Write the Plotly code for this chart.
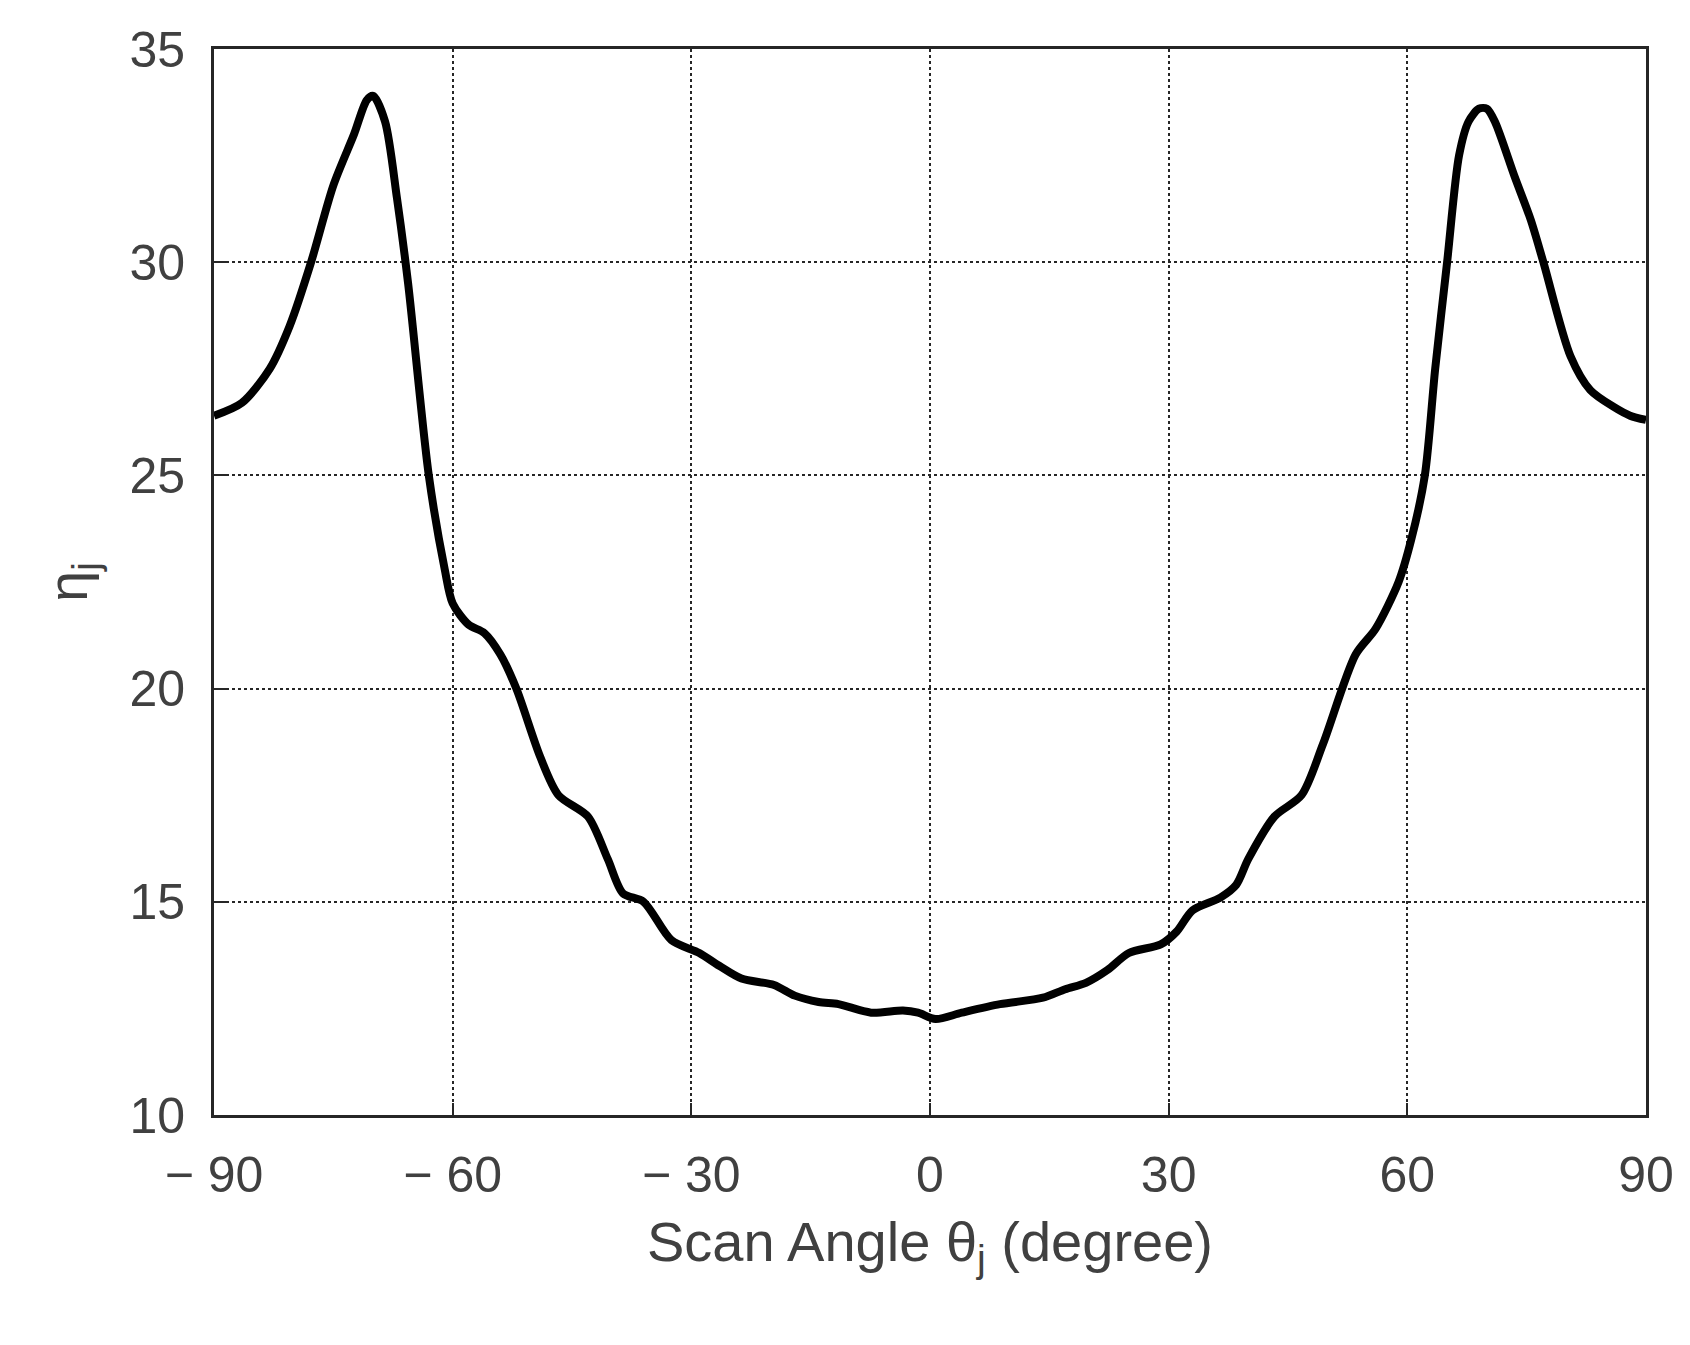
import plotly.graph_objects as go

angle = [-90, -86.5, -83, -80.5, -77.8, -75, -72.4, -70.8, -70, -68.5, -67, -65.6, -63, -61, -60, -58, -56, -54, -52, -49, -46.7, -43, -40.5, -38.6, -36, -32.5, -29, -26.5, -23.7, -19.6, -17, -14, -11.5, -7.4, -3.4, -1.5, 0.7,
         4, 8.8, 14.2, 17, 19.6, 22.3, 25, 29, 31, 33, 36.5, 38.5, 40, 43.3, 46.7, 49.4, 53.5, 56, 58.9, 60.5, 62.2, 63.5, 65, 66.5, 67.7, 69, 70, 71, 73.5, 75.5, 77.1, 80.5, 83, 86, 88, 90]
eta = [26.4, 26.7, 27.5, 28.5, 30.0, 31.8, 33.0, 33.8, 33.9, 33.3, 31.5, 29.5, 25.0, 22.8, 22.0, 21.5, 21.3, 20.8, 20.0, 18.4, 17.5, 17.0, 16.0, 15.2, 15.0, 14.1, 13.8, 13.5, 13.2, 13.05, 12.8, 12.65, 12.6, 12.4, 12.45, 12.4, 12.25,
       12.4, 12.6, 12.75, 12.95, 13.1, 13.4, 13.8, 14.0, 14.3, 14.8, 15.1, 15.4, 16.0, 17.0, 17.5, 18.7, 20.8, 21.4, 22.5, 23.5, 25.0, 27.5, 30.0, 32.5, 33.3, 33.6, 33.6, 33.3, 32.0, 31.0, 30.0, 27.8, 27.0, 26.6, 26.4, 26.3]

xticks = [-90, -60, -30, 0, 30, 60, 90]
xlabels = ["\u2212 90", "\u2212 60", "\u2212 30", "0", "30", "60", "90"]
yticks = [10, 15, 20, 25, 30, 35]

fig = go.Figure(go.Scatter(x=angle, y=eta, mode="lines",
                           line=dict(color="black", width=8, shape="spline", smoothing=0.8)))
axis_common = dict(showline=True, linecolor="#262626", linewidth=3, mirror=True,
                   showgrid=True, gridcolor="#262626", griddash="dot", gridwidth=2,
                   ticks="inside", ticklen=12, tickwidth=2, tickcolor="#262626",
                   zeroline=False, tickfont=dict(size=50, color="#404040"))
fig.update_xaxes(range=[-90, 90], tickvals=xticks, ticktext=xlabels, ticklabelstandoff=14,
                 title=dict(text="Scan Angle θ<sub>j</sub> (degree)", font=dict(size=56, color="#404040"), standoff=20),
                 **axis_common)
fig.update_yaxes(range=[10, 35], tickvals=yticks, ticklabelstandoff=16,
                 title=dict(text="η<sub>j</sub>", font=dict(size=56, color="#404040"), standoff=24),
                 **axis_common)
fig.update_layout(width=1690, height=1345, margin=dict(l=206, r=52, t=41, b=238),
                  plot_bgcolor="white", paper_bgcolor="white", showlegend=False,
                  font=dict(family="Arial, Liberation Sans, sans-serif"))
fig.write_html("out.html")
